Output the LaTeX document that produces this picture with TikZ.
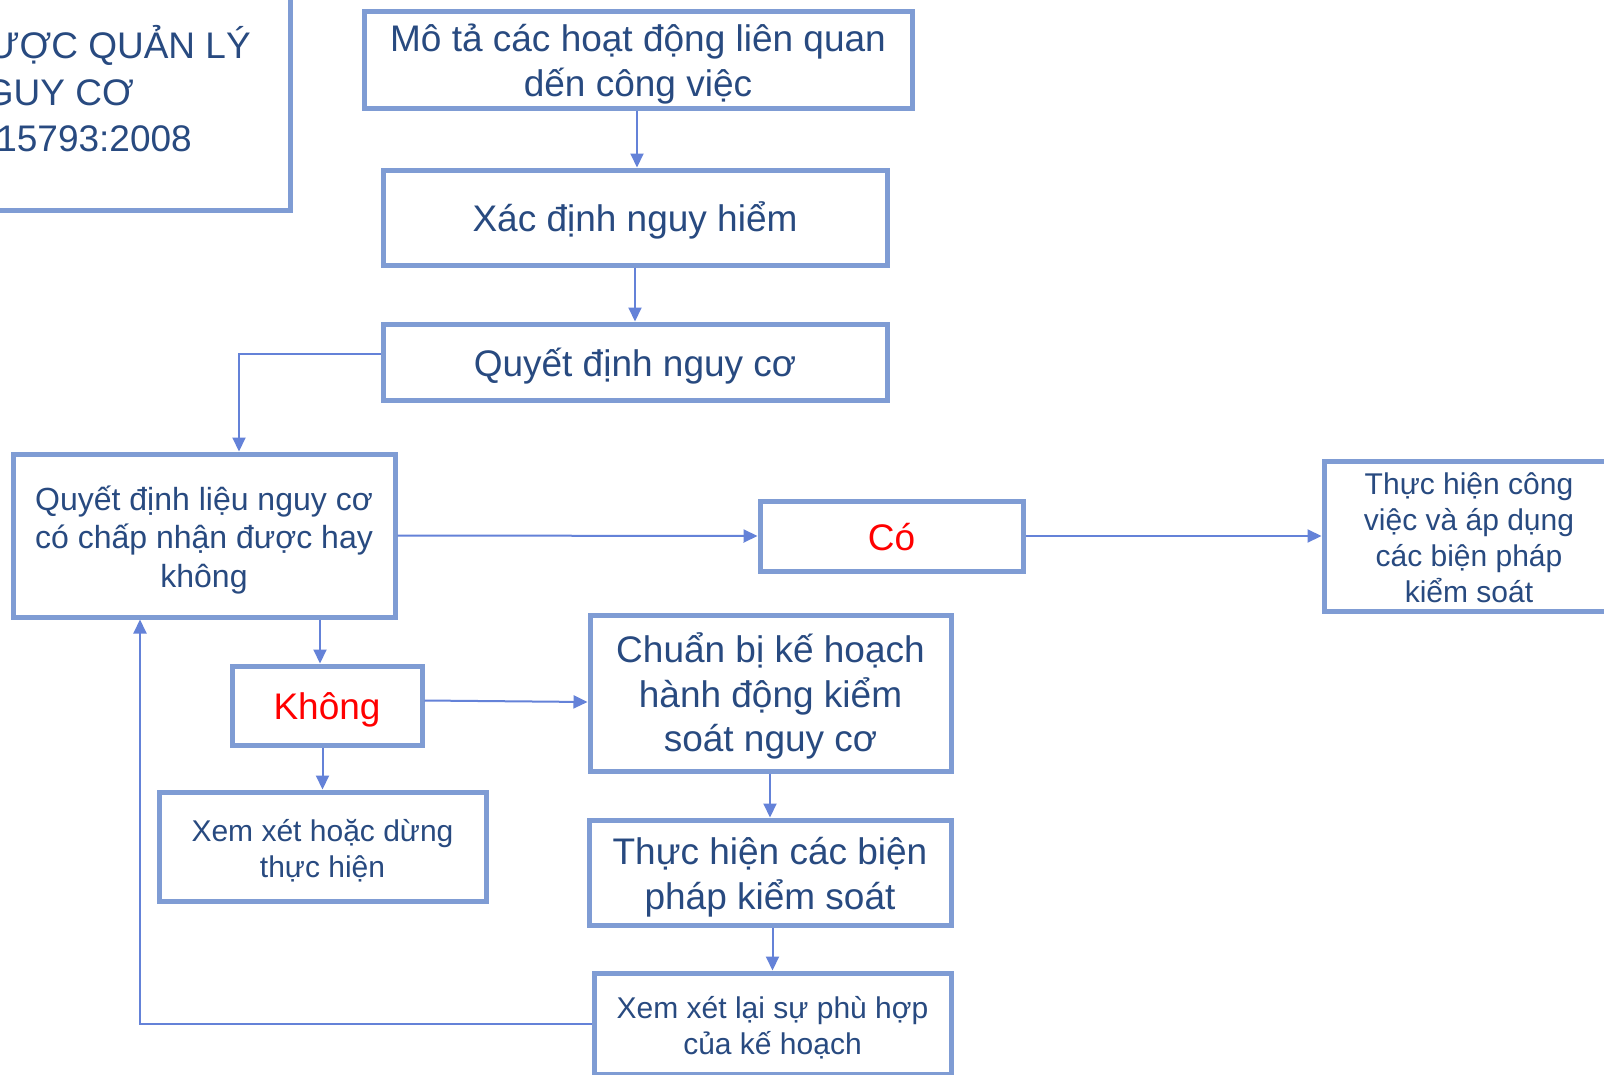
\documentclass[tikz,border=0pt]{standalone}
\usepackage{fontspec}
\setmainfont{Liberation Sans}
\usetikzlibrary{arrows.meta,calc}
\definecolor{boxline}{HTML}{7F9CD4}
\definecolor{linkline}{HTML}{6482D8}
\definecolor{txtblue}{HTML}{284A80}
\definecolor{answred}{HTML}{FF0000}
% centred lines, set a little below the middle of their box
\newcommand\boxlines[1]{\raisebox{-5.5pt}[\height][\depth]{%
  \begin{tabular}{@{}c@{}}#1\end{tabular}}}

\begin{document}
\begin{tikzpicture}[x=1pt,y=-1pt,
  box/.style={draw=boxline, line width=5pt, rectangle, inner sep=0pt,
    text=txtblue, fill=white},
  big/.style={font=\fontsize{37}{44.5}\selectfont},
  mid/.style={font=\fontsize{32}{38.4}\selectfont},
  small/.style={font=\fontsize{30}{36}\selectfont},
  conn/.style={draw=linkline, line width=2pt,
    -{Triangle[length=14pt,width=13pt]}},
]
\useasboundingbox (0,0) rectangle (1604,1074);
\clip (0,0) rectangle (1604,1074);
\fill[white] (0,0) rectangle (1604,1074);

% title frame, running off the top left corner
\draw[boxline, line width=5pt] (-30,-30) rectangle (290,210);
\node[anchor=base east, text=txtblue, font=\fontsize{37}{44}\selectfont, inner sep=0pt]
  (t1) at (251,58) {ƯỢC QUẢN LÝ};
\node[anchor=base east, text=txtblue, font=\fontsize{37}{44}\selectfont, inner sep=0pt]
  (t2) at (134,105) {GUY CƠ};
\node[anchor=base east, text=txtblue, font=\fontsize{37}{44}\selectfont, inner sep=0pt]
  (t3) at (192,151) {15793:2008};

% process boxes
\node[box,big,minimum width=548pt,minimum height=97pt] (A) at (638,59.5)
  {\boxlines{Mô tả các hoạt động liên quan\\dến công việc}};
\node[box,big,minimum width=504pt,minimum height=95pt] (B) at (635,217.5)
  {\boxlines{Xác định nguy hiểm}};
\node[box,big,minimum width=504pt,minimum height=76pt] (C) at (635,362)
  {\boxlines{Quyết định nguy cơ}};
\node[box,mid,minimum width=382pt,minimum height=163pt] (D) at (204,535.5)
  {\boxlines{Quyết định liệu nguy cơ\\có chấp nhận được hay\\không}};
\node[box,big,text=answred,minimum width=263pt,minimum height=70pt] (E) at (891.5,536)
  {\boxlines{Có}};
\node[box,small,minimum width=290pt,minimum height=150pt] (F) at (1469,536)
  {\boxlines{Thực hiện công\\việc và áp dụng\\các biện pháp\\kiểm soát}};
\node[box,big,text=answred,minimum width=190pt,minimum height=79pt] (G) at (327,705.5)
  {\boxlines{Không}};
\node[box,big,minimum width=361pt,minimum height=156pt] (H) at (770.5,693)
  {\boxlines{Chuẩn bị kế hoạch\\hành động kiểm\\soát nguy cơ}};
\node[box,small,minimum width=327pt,minimum height=109pt] (I) at (322.5,846.5)
  {\boxlines{Xem xét hoặc dừng\\thực hiện}};
\node[box,big,minimum width=362pt,minimum height=105pt] (J) at (770,872.5)
  {\boxlines{Thực hiện các biện\\pháp kiểm soát}};
\node[box,small,minimum width=357pt,minimum height=101pt] (K) at (772.5,1023.5)
  {\boxlines{Xem xét lại sự phù hợp\\của kế hoạch}};

% connectors
\draw[conn] ([xshift=-1pt]A.south) -- ([xshift=-1pt]A.south |- B.north);
\draw[conn] (B.south) -- (C.north);
\draw[conn] ([yshift=8pt]C.west) -| ([xshift=35pt]D.north);
\draw[conn] (D.east) -- (E.west);
\draw[conn] (E.east) -- (F.west);
\draw[conn] ([xshift=-7pt]G.north |- D.south) -- ([xshift=-7pt]G.north);
\draw[conn] ([yshift=5pt]G.east) -- ([yshift=-9pt]H.west);
\draw[conn] (G.south -| I.north) -- (I.north);
\draw[conn] (H.south -| J.north) -- (J.north);
\draw[conn] (J.south -| K.north) -- (K.north);
\draw[conn] (K.west) -| ([xshift=-64pt]D.south);
\end{tikzpicture}
\end{document}
